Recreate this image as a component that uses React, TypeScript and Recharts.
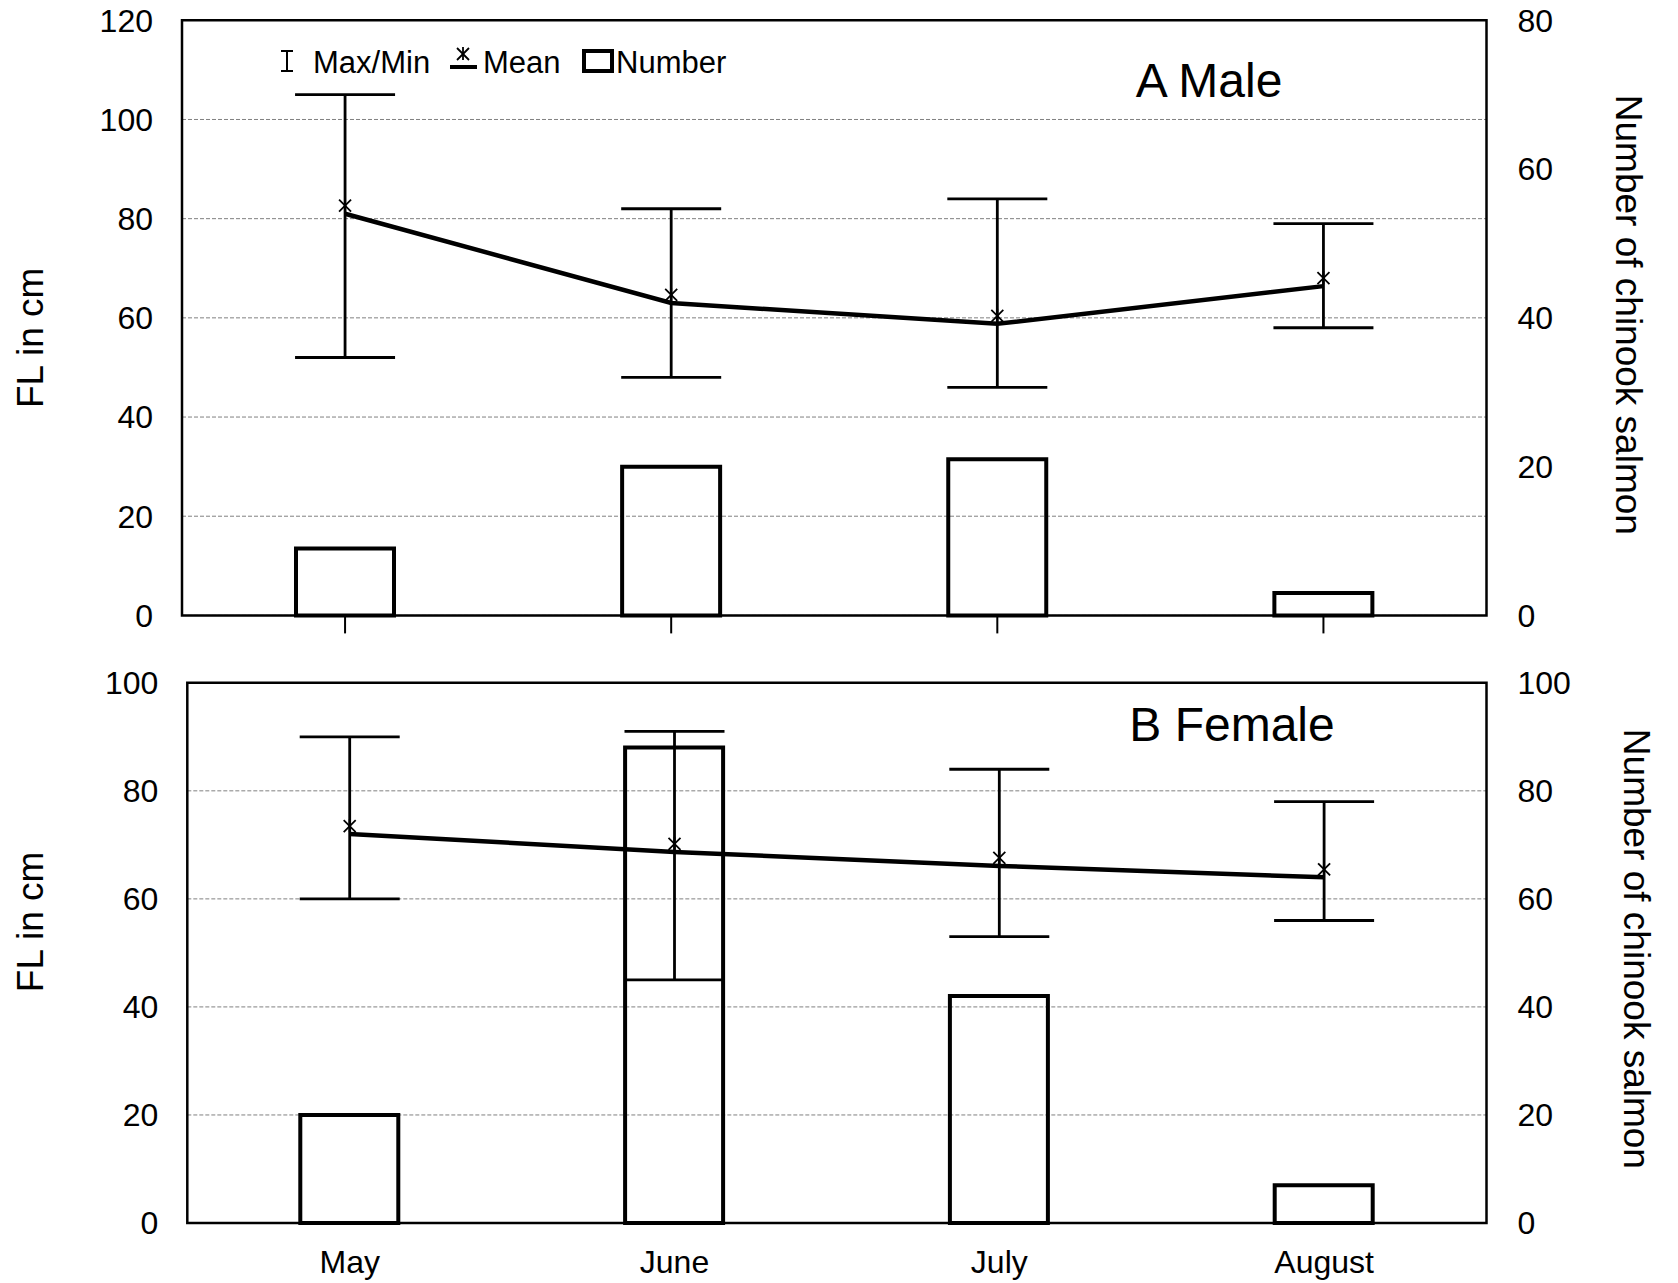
import {
  ComposedChart,
  Bar,
  Line,
  ErrorBar,
  XAxis,
  YAxis,
  CartesianGrid,
  ReferenceArea,
  Legend,
} from 'recharts'

const months = ['May', 'June', 'July', 'August']

const maleMean = [81, 63, 58.8, 66.4]
const maleMax = [105, 82, 84, 79]
const maleMin = [52, 48, 46, 58]
const maleNumber = [9, 20, 21, 3]

const femaleMean = [72, 68.7, 66.1, 64]
const femaleMax = [90, 91, 84, 78]
const femaleMin = [60, 45, 53, 56]
const femaleNumber = [20, 88, 42, 7]

const maleLeftTicks = [0, 20, 40, 60, 80, 100, 120]
const maleRightTicks = [0, 20, 40, 60, 80]
const femaleTicks = [0, 20, 40, 60, 80, 100]

const font = '"Liberation Sans", Arial, sans-serif'

function buildRows(mean: number[], max: number[], min: number[], count: number[]) {
  return months.map((month, i) => ({
    month,
    mean: mean[i],
    range: [mean[i] - min[i], max[i] - mean[i]],
    count: count[i],
  }))
}

// star marker, sits a little above the line vertex like in the original
const Asterisk = (props: any) => {
  const { cx, cy } = props
  if (cx == null || cy == null) return null
  const y = cy - 8
  const r = 6
  return (
    <g stroke="#000" strokeWidth={1.8}>
      <line x1={cx - r} y1={y - r} x2={cx + r} y2={y + r} />
      <line x1={cx - r} y1={y + r} x2={cx + r} y2={y - r} />
      <line x1={cx} y1={y - r - 1} x2={cx} y2={y + r} />
    </g>
  )
}

const LegendBox = () => (
  <svg width={440} height={44} style={{ fontFamily: font, overflow: 'visible' }}>
    <g stroke="#000" strokeWidth={2}>
      <line x1={7} y1={13} x2={7} y2={33} />
      <line x1={1} y1={13} x2={13} y2={13} />
      <line x1={1} y1={33} x2={13} y2={33} />
    </g>
    <text x={33} y={35} fontSize={31} fill="#000">Max/Min</text>
    <line x1={170} y1={29} x2={197} y2={29} stroke="#000" strokeWidth={4} />
    <Asterisk cx={183} cy={24} />
    <text x={203} y={35} fontSize={31} fill="#000">Mean</text>
    <rect x={304} y={13} width={28} height={20} fill="none" stroke="#000" strokeWidth={4} />
    <text x={336} y={35} fontSize={31} fill="#000">Number</text>
  </svg>
)

type PanelProps = {
  rows: any[]
  height: number
  top: number
  leftWidth: number
  xHeight: number
  leftMax: number
  rightMax: number
  leftTicks: number[]
  rightTicks: number[]
  showMonths: boolean
  showLegend: boolean
  leftLabel: { dx: number; dy: number }
  rightLabel: { dx: number; dy: number }
}

function Panel(p: PanelProps) {
  return (
    <ComposedChart
      width={1678}
      height={p.height}
      data={p.rows}
      margin={{ top: p.top, right: 0, bottom: 0, left: 0 }}
    >
      <CartesianGrid
        yAxisId="left"
        vertical={false}
        stroke="#808080"
        strokeDasharray="4 2"
      />
      <XAxis
        dataKey="month"
        height={p.xHeight}
        axisLine={false}
        tickLine={p.showMonths ? false : { stroke: '#000', strokeWidth: 2 }}
        tickSize={p.showMonths ? 0 : 18}
        tickMargin={p.showMonths ? 27 : 0}
        tickFormatter={(v) => (p.showMonths ? v : '')}
        tick={{ fill: '#000', fontSize: 32 }}
      />
      <YAxis
        yAxisId="left"
        width={p.leftWidth}
        domain={[0, p.leftMax]}
        ticks={p.leftTicks}
        axisLine={false}
        tickLine={false}
        tickSize={0}
        tickMargin={29}
        tick={{ fill: '#000', fontSize: 32 }}
        label={{
          value: 'FL in cm',
          angle: -90,
          position: 'center',
          dx: p.leftLabel.dx,
          dy: p.leftLabel.dy,
          style: { fontSize: 37, fill: '#000' },
        }}
      />
      <YAxis
        yAxisId="right"
        orientation="right"
        width={191.5}
        domain={[0, p.rightMax]}
        ticks={p.rightTicks}
        axisLine={false}
        tickLine={false}
        tickSize={0}
        tickMargin={31}
        tick={{ fill: '#000', fontSize: 32 }}
        label={{
          value: 'Number of chinook salmon',
          angle: 90,
          position: 'center',
          dx: p.rightLabel.dx,
          dy: p.rightLabel.dy,
          style: { fontSize: 37, fill: '#000' },
        }}
      />
      <Bar
        yAxisId="right"
        dataKey="count"
        name="Number"
        barSize={98}
        fill="none"
        stroke="#000"
        strokeWidth={4}
        isAnimationActive={false}
      />
      <Line
        yAxisId="left"
        type="linear"
        dataKey="mean"
        name="Mean"
        stroke="#000"
        strokeWidth={4.5}
        dot={<Asterisk />}
        activeDot={false}
        isAnimationActive={false}
      >
        <ErrorBar
          dataKey="range"
          width={50}
          stroke="#000"
          strokeWidth={2.8}
          direction="y"
          isAnimationActive={false}
        />
      </Line>
      <ReferenceArea
        yAxisId="left"
        y1={0}
        y2={p.leftMax}
        fill="none"
        stroke="#000"
        strokeWidth={2.5}
        ifOverflow="extendDomain"
      />
      {p.showLegend && (
        <Legend
          verticalAlign="middle"
          align="center"
          content={() => <LegendBox />}
          wrapperStyle={{ left: 280, top: 38, width: 440, height: 44 }}
        />
      )}
    </ComposedChart>
  )
}

export default function App() {
  const male = buildRows(maleMean, maleMax, maleMin, maleNumber)
  const female = buildRows(femaleMean, femaleMax, femaleMin, femaleNumber)
  return (
    <div
      style={{
        position: 'absolute',
        left: 0,
        top: 0,
        width: 1678,
        height: 1283,
        background: '#fff',
        fontFamily: font,
      }}
    >
      <div style={{ position: 'absolute', left: 0, top: 0 }}>
        <Panel
          rows={male}
          height={640}
          top={20.3}
          leftWidth={182}
          xHeight={24.6}
          leftMax={120}
          rightMax={80}
          leftTicks={maleLeftTicks}
          rightTicks={maleRightTicks}
          showMonths={false}
          showLegend={true}
          leftLabel={{ dx: -61, dy: 20 }}
          rightLabel={{ dx: 47, dy: -3 }}
        />
      </div>
      <div style={{ position: 'absolute', left: 0, top: 640 }}>
        <Panel
          rows={female}
          height={643}
          top={42.8}
          leftWidth={187.3}
          xHeight={60}
          leftMax={100}
          rightMax={100}
          leftTicks={femaleTicks}
          rightTicks={femaleTicks}
          showMonths={true}
          showLegend={false}
          leftLabel={{ dx: -64, dy: -31 }}
          rightLabel={{ dx: 55, dy: -4 }}
        />
      </div>
      <div
        style={{
          position: 'absolute',
          left: 1209,
          top: 80,
          transform: 'translate(-50%, -50%)',
          fontSize: 48,
          whiteSpace: 'nowrap',
        }}
      >
        A Male
      </div>
      <div
        style={{
          position: 'absolute',
          left: 1232,
          top: 724,
          transform: 'translate(-50%, -50%)',
          fontSize: 48,
          whiteSpace: 'nowrap',
        }}
      >
        B Female
      </div>
    </div>
  )
}
